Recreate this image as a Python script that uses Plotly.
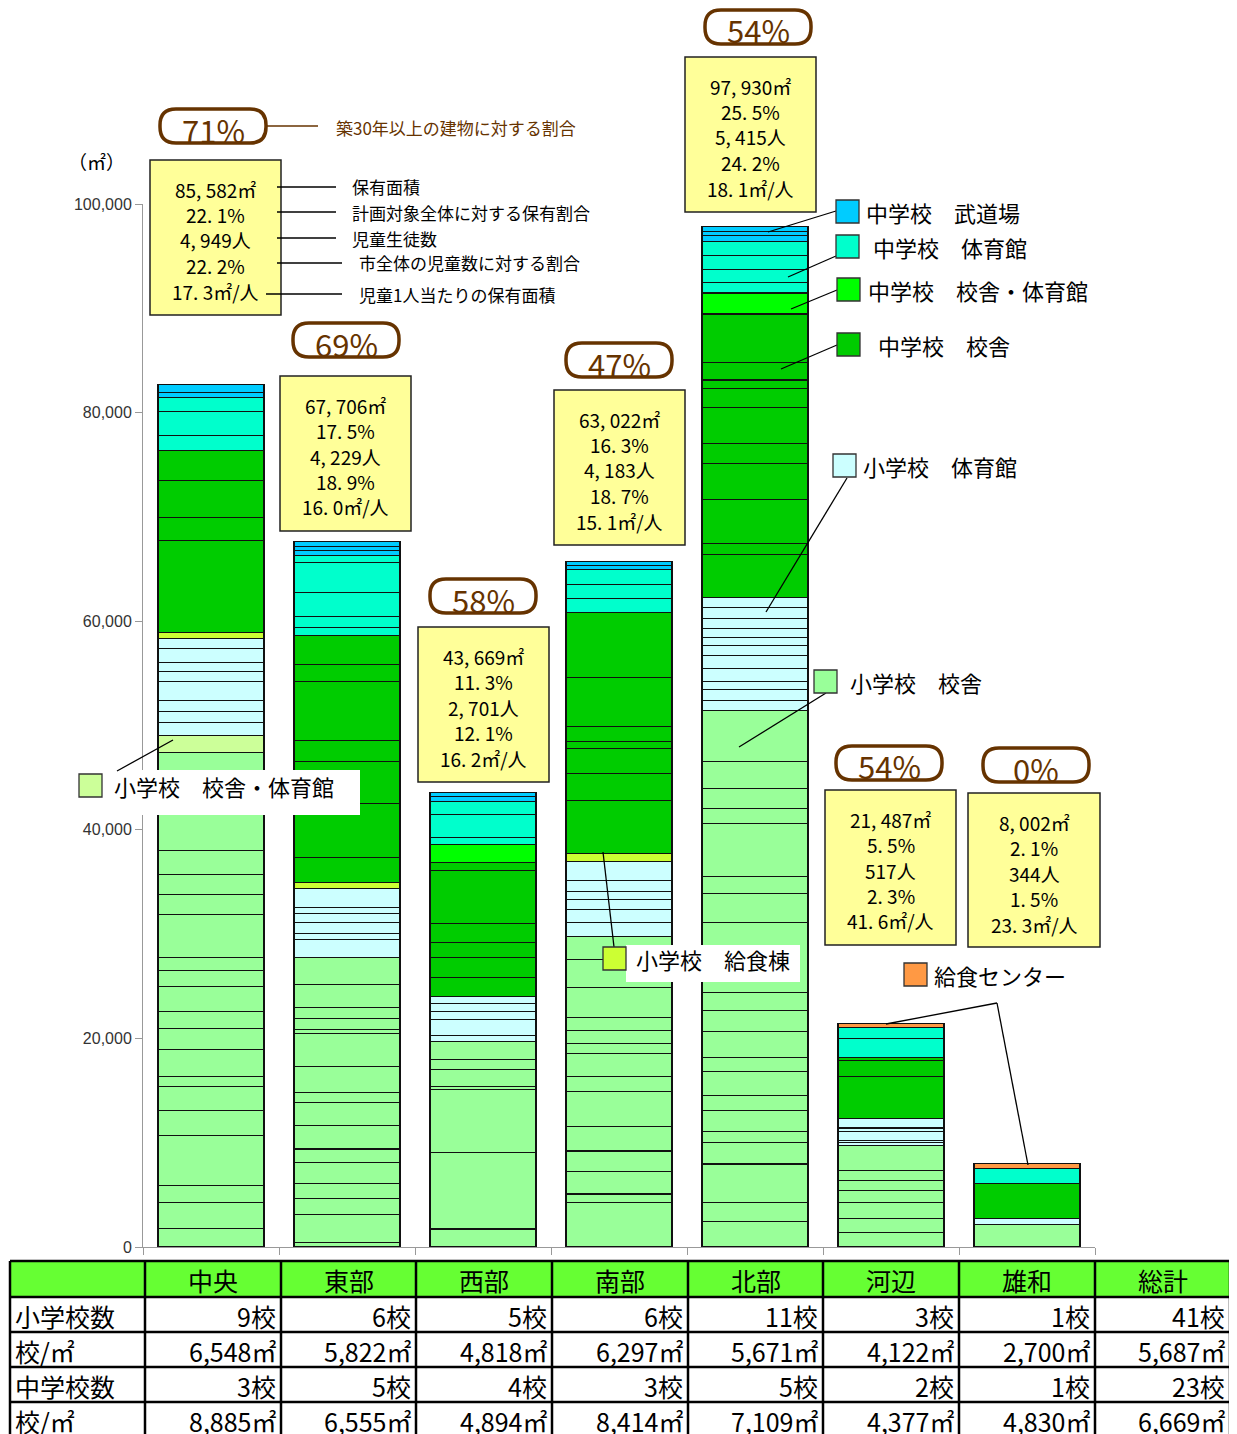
import plotly.graph_objects as go

DISTRICTS = ["中央", "東部", "西部", "南部", "北部", "河辺", "雄和"]

# floor area of each building (m2), one list per district, stacked bottom -> top
ES_BUILDING = [
    [1792, 2492, 1601, 4821, 2396, 2329, 930, 2559, 2041, 1601, 2454, 1533, 1217, 4150, 1859, 1946, 2300, 9364],
    [422, 2684, 1533, 1438, 2041, 1275, 2271, 2176, 1016, 2492, 3105, 383, 1054, 1054, 2262, 2588],
    [1725, 7322, 6038, 316, 1629, 930, 1725],
    [4284, 795, 2147, 1974, 2396, 3354, 1409, 2204, 930, 1275, 1275, 2875, 2655, 2204],
    [2434, 1821, 3699, 2051, 1112, 1984, 1438, 2300, 1313, 2549, 1955, 1725, 6766, 2751, 1658, 5022, 1495, 1917, 2588, 4878],
    [1380, 1371, 1533, 1121, 958, 958, 2425],
    [2147],
]
ES_BUILDING_GYM = [[1658], [], [], [], [], [], []]
ES_GYM = [
    [1217, 1112, 1025, 1850, 930, 891, 1284, 1016],
    [1725, 575, 997, 920, 518, 1821],
    [575, 1533, 824, 709, 728],
    [1313, 1246, 958, 824, 1025, 1850],
    [939, 1073, 709, 1246, 1246, 1006, 738, 872, 949, 1073, 1006],
    [316, 163, 891, 230, 153, 805],
    [575],
]
ES_KITCHEN = [[518], [575], [], [767], [], [], []]
JH_BUILDING = [
    [8846, 2233, 3517, 2846],
    [2454, 5118, 4025, 2041, 5655, 1629, 2779],
    [1821, 1859, 1438, 1821, 5108, 738],
    [5080, 2588, 2338, 700, 1438, 4696, 6201],
    [4102, 1006, 4274, 3393, 1917, 3469, 1850, 805, 1716, 4610],
    [4083, 1505, 316],
    [3354],
]
JH_BUILDING_GYM = [[], [], [1725], [], [2013], [], []]
JH_GYM = [
    [1466, 2300, 1371],
    [795, 1025, 2329, 2818, 671],
    [671, 2233, 1246],
    [1342, 1399, 1380],
    [1006, 1284, 1342, 1342],
    [1821, 1054],
    [1438],
]
JH_DOJO = [[422, 795], [479, 441, 450], [479, 412], [412, 412], [508, 403, 508], [], []]
KITCHEN_CENTER = [[], [], [], [], [], [383], [479]]

# summary boxes
AREA_TXT = ["85, 582㎡", "67, 706㎡", "43, 669㎡", "63, 022㎡", "97, 930㎡", "21, 487㎡", "8, 002㎡"]
AREA_SHARE = ["22. 1%", "17. 5%", "11. 3%", "16. 3%", "25. 5%", "5. 5%", "2. 1%"]
PUPILS = ["4, 949人", "4, 229人", "2, 701人", "4, 183人", "5, 415人", "517人", "344人"]
PUPIL_SHARE = ["22. 2%", "18. 9%", "12. 1%", "18. 7%", "24. 2%", "2. 3%", "1. 5%"]
PER_PUPIL = ["17. 3㎡/人", "16. 0㎡/人", "16. 2㎡/人", "15. 1㎡/人", "18. 1㎡/人", "41. 6㎡/人", "23. 3㎡/人"]
OLD_SHARE = ["71%", "69%", "58%", "47%", "54%", "54%", "0%"]

# table under the chart
TABLE_HEAD = ["中央", "東部", "西部", "南部", "北部", "河辺", "雄和", "総計"]
TABLE_ROWS = ["小学校数", "校/㎡", "中学校数", "校/㎡"]
ES_COUNT = ["9校", "6校", "5校", "6校", "11校", "3校", "1校", "41校"]
ES_PER = ["6,548㎡", "5,822㎡", "4,818㎡", "6,297㎡", "5,671㎡", "4,122㎡", "2,700㎡", "5,687㎡"]
JH_COUNT = ["3校", "5校", "4校", "3校", "5校", "2校", "1校", "23校"]
JH_PER = ["8,885㎡", "6,555㎡", "4,894㎡", "8,414㎡", "7,109㎡", "4,377㎡", "4,830㎡", "6,669㎡"]

JP = "Noto Sans CJK JP"
BROWN = "#663300"

SERIES = [
    ("小学校 校舎", ES_BUILDING, "#99FF99"),
    ("小学校 校舎・体育館", ES_BUILDING_GYM, "#CCFF99"),
    ("小学校 体育館", ES_GYM, "#CCFFFF"),
    ("小学校 給食棟", ES_KITCHEN, "#CCFF33"),
    ("中学校 校舎", JH_BUILDING, "#00CC00"),
    ("中学校 校舎・体育館", JH_BUILDING_GYM, "#00FF00"),
    ("中学校 体育館", JH_GYM, "#00FFCC"),
    ("中学校 武道場", JH_DOJO, "#00CCFF"),
    ("給食センター", KITCHEN_CENTER, "#FF9944"),
]

fig = go.Figure()
for name, data, color in SERIES:
    n = max(len(d) for d in data)
    for k in range(n):
        xs = [DISTRICTS[i] for i, d in enumerate(data) if len(d) > k]
        ys = [d[k] for d in data if len(d) > k]
        fig.add_trace(go.Bar(
            x=xs, y=ys, name=name, marker_color=color,
            marker_line=dict(color="#111111", width=1.1),
            showlegend=False, hovertemplate=name + ": %{y:,}㎡<extra></extra>",
        ))

# page pixels (the html body adds an 8px margin) -> paper coords
OFF = 8
W, H = 1237 - OFF, 1434 - OFF
L, R, T, B = 143, 1095, 204, 1247


def px(x):
    return (x - L) / (R - L)


def py(y):
    return (B - y) / (B - T)


shapes = []
annos = []


def line(x0, y0, x1, y1, color="black", width=1.3):
    shapes.append(dict(type="line", xref="paper", yref="paper", layer="above",
                       x0=px(x0), y0=py(y0), x1=px(x1), y1=py(y1),
                       line=dict(color=color, width=width)))


def rect(x0, y0, x1, y1, fill, lc="black", lw=1.3):
    shapes.append(dict(type="rect", xref="paper", yref="paper", layer="above",
                       x0=px(x0), y0=py(y0), x1=px(x1), y1=py(y1),
                       fillcolor=fill, line=dict(color=lc, width=lw)))


def text(x, y, s, size, color="black", anchor="left"):
    annos.append(dict(xref="paper", yref="paper", x=px(x), y=py(y), text=s,
                      showarrow=False, xanchor=anchor, yanchor="middle",
                      font=dict(family=JP, size=size, color=color)))


def pill(cx, cy, s):
    x0, x1, y0, y1, r = cx - 53, cx + 53, cy - 17, cy + 17, 16
    pts = [("M", x0 + r, y0), ("L", x1 - r, y0), ("Q", x1, y0, x1, y0 + r), ("L", x1, y1 - r),
           ("Q", x1, y1, x1 - r, y1), ("L", x0 + r, y1), ("Q", x0, y1, x0, y1 - r),
           ("L", x0, y0 + r), ("Q", x0, y0, x0 + r, y0)]
    path = ""
    for p in pts:
        coords = p[1:]
        seg = [f"{px(coords[i]):.5f},{py(coords[i + 1]):.5f}" for i in range(0, len(coords), 2)]
        path += p[0] + " " + " ".join(seg) + " "
    shapes.append(dict(type="path", xref="paper", yref="paper", layer="above", path=path + "Z",
                       fillcolor="white", line=dict(color=BROWN, width=3.5)))
    text(cx, cy + 3, s, 31, BROWN, "center")


# summary boxes and pills
BOX_POS = [(150, 281, 160, 315), (280, 411, 376, 531), (418, 549, 627, 782), (554, 685, 390, 545),
           (685, 816, 57, 212), (825, 956, 790, 945), (968, 1100, 793, 947)]
PILL_POS = [(213, 126), (346, 340), (483, 596), (619, 360), (758, 27), (889, 763), (1036, 765)]
for i in range(len(DISTRICTS)):
    x0, x1, y0, y1 = BOX_POS[i]
    rect(x0, y0, x1, y1, "#FFFF99", "#222222", 1.5)
    lines = [AREA_TXT[i], AREA_SHARE[i], PUPILS[i], PUPIL_SHARE[i], PER_PUPIL[i]]
    for j, s in enumerate(lines):
        text((x0 + x1) / 2, y0 + 29 + 25.5 * j, s, 19, "black", "center")
    pill(PILL_POS[i][0], PILL_POS[i][1], OLD_SHARE[i])

# explanation of the 中央 box
line(267, 126, 318, 126, BROWN, 1.5)
text(334, 127, "築30年以上の建物に対する割合", 17, BROWN)
for y, x0, x1, tx, s in [(187, 277, 336, 350, "保有面積"),
                         (212, 277, 336, 350, "計画対象全体に対する保有割合"),
                         (238, 277, 336, 350, "児童生徒数"),
                         (263, 277, 342, 357, "市全体の児童数に対する割合"),
                         (294, 266, 342, 357, "児童1人当たりの保有面積")]:
    line(x0, y, x1, y)
    text(tx, y, s, 17)

text(66, 161, "（㎡）", 19)

# callout legends
for x0, y0, x1, y1 in [(77, 770, 360, 815), (626, 945, 800, 982)]:
    rect(x0, y0, x1, y1, "white", "white", 0)

LEGEND = [
    ("#00CCFF", 836, 200, 864, "中学校　武道場", [(836, 211, 768, 232)]),
    ("#00FFCC", 836, 235, 871, "中学校　体育館", [(836, 256, 788, 277)]),
    ("#00FF00", 837, 278, 866, "中学校　校舎・体育館", [(837, 290, 791, 309)]),
    ("#00CC00", 837, 333, 876, "中学校　校舎", [(837, 345, 781, 369)]),
    ("#CCFFFF", 833, 454, 861, "小学校　体育館", [(847, 478, 766, 612)]),
    ("#99FF99", 814, 670, 848, "小学校　校舎", [(826, 693, 739, 747)]),
    ("#CCFF99", 79, 774, 112, "小学校　校舎・体育館", [(117, 771, 173, 740)]),
    ("#CCFF33", 603, 947, 634, "小学校　給食棟", [(614, 947, 603, 852)]),
    ("#FF9944", 904, 963, 932, "給食センター", [(886, 1024, 997, 1003), (997, 1003, 1028, 1165)]),
]
for color, sx, sy, tx, label, segs in LEGEND:
    for a, b, c, d in segs:
        line(a, b, c, d)
    rect(sx, sy, sx + 23, sy + 23, color, "#333333", 1.3)
    text(tx, sy + 12, label, 22)

# table
COLS = [10, 145, 281, 416, 552, 688, 823, 959, 1095, 1230]
ROWS = [1261, 1297, 1332, 1367, 1402, 1437]
rect(COLS[0], ROWS[0], COLS[-1], ROWS[1], "#66FF33", "black", 0)
for y in ROWS:
    line(COLS[0], y, COLS[-1], y, "black", 2.5)
for x in COLS:
    line(x, ROWS[0], x, ROWS[-1], "black", 2.5)
for c, s in enumerate(TABLE_HEAD):
    text((COLS[c + 1] + COLS[c + 2]) / 2, (ROWS[0] + ROWS[1]) / 2 + 1, s, 25, "black", "center")
for r, (lab, vals) in enumerate(zip(TABLE_ROWS, [ES_COUNT, ES_PER, JH_COUNT, JH_PER])):
    yc = (ROWS[r + 1] + ROWS[r + 2]) / 2 + 1
    text(COLS[0] + 3, yc, lab, 25)
    for c, s in enumerate(vals):
        text(COLS[c + 2] - 3, yc, s, 25, "black", "right")

fig.update_layout(
    width=W, height=H,
    margin=dict(l=L - OFF, r=W - (R - OFF), t=T - OFF, b=H - (B - OFF), pad=0),
    paper_bgcolor="white", plot_bgcolor="white",
    barmode="stack", bargap=0.22,
    showlegend=False,
    shapes=shapes, annotations=annos,
    font=dict(family=JP),
)
fig.update_xaxes(
    type="category", categoryorder="array", categoryarray=DISTRICTS,
    showticklabels=False, showline=True, linecolor="#999999", linewidth=1,
    ticks="outside", tickson="boundaries", ticklen=7, tickcolor="#999999", showgrid=False,
)
fig.update_yaxes(
    range=[0, 100000], tickvals=[0, 20000, 40000, 60000, 80000, 100000], tickformat=",",
    showline=True, linecolor="#999999", linewidth=1, ticks="outside", ticklen=7, tickcolor="#999999",
    showgrid=False, zeroline=False,
    tickfont=dict(family="Liberation Sans, Arial", size=16, color="#333333"),
)

fig.write_html("out.html")
